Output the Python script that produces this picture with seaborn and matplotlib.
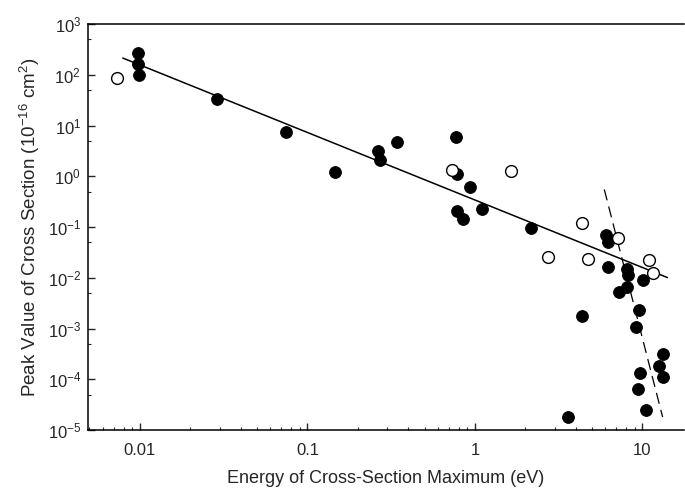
import numpy as np
import pandas as pd
import seaborn as sns
import matplotlib.pyplot as plt
from matplotlib.ticker import LogLocator, FixedLocator, FixedFormatter, NullFormatter

# filled symbols
energy_filled = [0.0097, 0.0098, 0.0099, 0.029, 0.074, 0.146, 0.264, 0.271, 0.342,
                 0.77, 0.78, 0.93, 0.78, 0.85, 1.10, 2.16, 4.34, 3.6,
                 6.1, 6.25, 6.25, 8.05, 8.2, 8.05, 7.28, 10.1, 9.57, 9.15,
                 13.3, 12.6, 13.3, 9.66, 9.44, 10.5]
sigma_filled = [264, 163, 99, 33, 7.4, 1.2, 3.1, 2.1, 4.7,
                5.9, 1.1, 0.62, 0.21, 0.147, 0.23, 0.096, 0.00177, 1.8e-5,
                0.071, 0.051, 0.0163, 0.0152, 0.0112, 0.0066, 0.0052, 0.0092, 0.00229, 0.00107,
                3.1e-4, 1.8e-4, 1.1e-4, 1.33e-4, 6.5e-5, 2.5e-5]

# open symbols
energy_open = [0.0073, 0.73, 1.64, 2.72, 4.37, 4.74, 7.17, 11.0, 11.6]
sigma_open = [85, 1.36, 1.28, 0.026, 0.122, 0.023, 0.062, 0.0229, 0.0126]

# fitted lines (end points)
solid_x = [0.0079, 14.1]
solid_y = [214, 0.0101]
dash_x = [5.92, 13.2]
dash_y = [0.55, 1.8e-5]

x_ticks = [0.01, 0.1, 1, 10]
x_labels = ["0.01", "0.1", "1", "10"]
y_ticks = [1e-5, 1e-4, 1e-3, 1e-2, 1e-1, 1e0, 1e1, 1e2, 1e3]
y_labels = [r"$10^{%d}$" % e for e in range(-5, 4)]

sns.set_style("ticks")
plt.rcParams['font.family'] = ['Liberation Sans', 'DejaVu Sans']
plt.rcParams['mathtext.fontset'] = 'custom'
plt.rcParams['mathtext.rm'] = 'Liberation Sans'
plt.rcParams['mathtext.it'] = 'Liberation Sans'

fig = plt.figure(figsize=(6.85, 4.96), dpi=100)
ax = fig.add_axes([0.1285, 0.133, 0.87, 0.8185])

sns.lineplot(x=solid_x, y=solid_y, ax=ax, color='black', linewidth=1.1)
sns.lineplot(x=dash_x, y=dash_y, ax=ax, color='black', linewidth=0.9, linestyle=(0, (9, 5)))

df_f = pd.DataFrame({'E': energy_filled, 's': sigma_filled})
df_o = pd.DataFrame({'E': energy_open, 's': sigma_open})
sns.scatterplot(data=df_f, x='E', y='s', ax=ax, s=72, color='black', edgecolor='black', zorder=3)
sns.scatterplot(data=df_o, x='E', y='s', ax=ax, s=72, facecolor='white', edgecolor='black',
                linewidth=1.0, zorder=3)

ax.set_xscale('log')
ax.set_yscale('log')
ax.set_xlim(0.0049, 17.7)
ax.set_ylim(1e-5, 1e3)

ax.xaxis.set_major_locator(FixedLocator(x_ticks))
ax.xaxis.set_major_formatter(FixedFormatter(x_labels))
ax.xaxis.set_minor_locator(LogLocator(base=10, subs=np.arange(2, 10)))
ax.xaxis.set_minor_formatter(NullFormatter())
ax.yaxis.set_major_locator(FixedLocator(y_ticks))
ax.yaxis.set_major_formatter(FixedFormatter(y_labels))
ax.yaxis.set_minor_locator(FixedLocator([5 * t for t in y_ticks[:-1]]))
ax.yaxis.set_minor_formatter(NullFormatter())

ax.tick_params(which='major', direction='in', length=5, width=1, labelsize=12, pad=5)
ax.tick_params(which='minor', direction='in', length=2.5, width=0.8)
ax.tick_params(axis='x', labelsize=12, pad=9)

for sp in ax.spines.values():
    sp.set_linewidth(1.1)
    sp.set_color('black')
ax.spines['right'].set_visible(False)

ax.set_xlabel("Energy of Cross-Section Maximum (eV)", fontsize=13, labelpad=9)
ax.set_ylabel(r"Peak Value of Cross Section (10$^{-16}$ cm$^{2}$)", fontsize=13.5, labelpad=4)

fig.savefig("out.png", dpi=100)
